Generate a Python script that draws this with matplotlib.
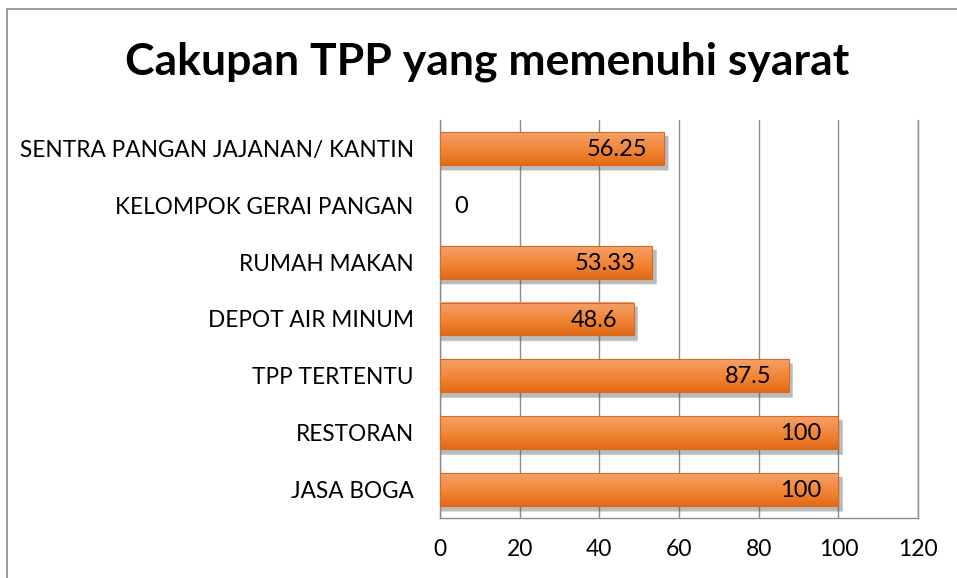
import numpy as np
import matplotlib.pyplot as plt
from matplotlib.patches import Rectangle
from matplotlib.colors import LinearSegmentedColormap

categories = [
    "JASA BOGA",
    "RESTORAN",
    "TPP TERTENTU",
    "DEPOT AIR MINUM",
    "RUMAH MAKAN",
    "KELOMPOK GERAI PANGAN",
    "SENTRA PANGAN JAJANAN/ KANTIN",
]
values = [100, 100, 87.5, 48.6, 53.33, 0, 56.25]
value_labels = ["100", "100", "87.5", "48.6", "53.33", "0", "56.25"]
x_ticks = [0, 20, 40, 60, 80, 100, 120]

FONT = ["Lato", "DejaVu Sans"]
plt.rcParams["font.family"] = FONT

fig = plt.figure(figsize=(9.57, 5.78), dpi=100)
ax = fig.add_axes([0.4598, 0.1038, 0.4995, 0.6886])

# outer chart frame (only left/top edges show on the canvas)
fig.patches.append(Rectangle((7.5 / 957, -0.1), 1.2, 1 - 9 / 578 + 0.1,
                             transform=fig.transFigure, fill=False,
                             edgecolor="#8c8c8c", linewidth=1.2))

bar_h = 0.58
grad = LinearSegmentedColormap.from_list(
    "bar", ["#df6a18", "#ef7f2c", "#f2904a", "#f5a06c"])
ypos = np.arange(len(categories))

for y, v in zip(ypos, values):
    if v <= 0:
        continue
    # soft drop shadow
    for k, a in enumerate([0.10, 0.10, 0.12, 0.14]):
        off = 0.035 * (4 - k)
        ax.add_patch(Rectangle((0, y - bar_h / 2 - 0.08 - off * 0.2),
                               v + 0.9 + off * 2, bar_h + off * 0.3,
                               facecolor="#555555", alpha=a, linewidth=0,
                               zorder=2))
    g = np.linspace(0, 1, 64).reshape(-1, 1)
    ax.imshow(g, cmap=grad, aspect="auto", origin="lower",
              extent=(0, v, y - bar_h / 2, y + bar_h / 2), zorder=3)
    ax.add_patch(Rectangle((0, y - bar_h / 2), v, bar_h, fill=False,
                           edgecolor="#d9691c", linewidth=0.8, zorder=4))

for y, v, lab in zip(ypos, values, value_labels):
    if v > 0:
        ax.text(v - 4.2, y - 0.02, lab, ha="right", va="center",
                fontsize=17, color="black", zorder=5)
    else:
        ax.text(5.2, y - 0.02, lab, ha="center", va="center",
                fontsize=17, color="black", zorder=5)

ax.set_xlim(0, 120)
ax.set_ylim(-0.5, len(categories) - 0.5)
ax.set_xticks(x_ticks)
ax.set_xticklabels([str(t) for t in x_ticks], fontsize=16.5)
ax.set_yticks(ypos)
ax.set_yticklabels(categories, fontsize=16.3)
ax.tick_params(axis="both", length=0)
ax.tick_params(axis="y", pad=19)
ax.tick_params(axis="x", pad=15)
ax.xaxis.grid(True, color="#8c8c8c", linewidth=1.0)
ax.set_axisbelow(True)
for s in ["left", "bottom", "right"]:
    ax.spines[s].set_color("#8c8c8c")
    ax.spines[s].set_linewidth(1.0)
ax.spines["top"].set_visible(False)

fig.text(487 / 957, 1 - 62 / 578, "Cakupan TPP yang memenuhi syarat",
         ha="center", va="center", fontsize=32, fontweight="bold")

fig.savefig("out.png", dpi=100)
